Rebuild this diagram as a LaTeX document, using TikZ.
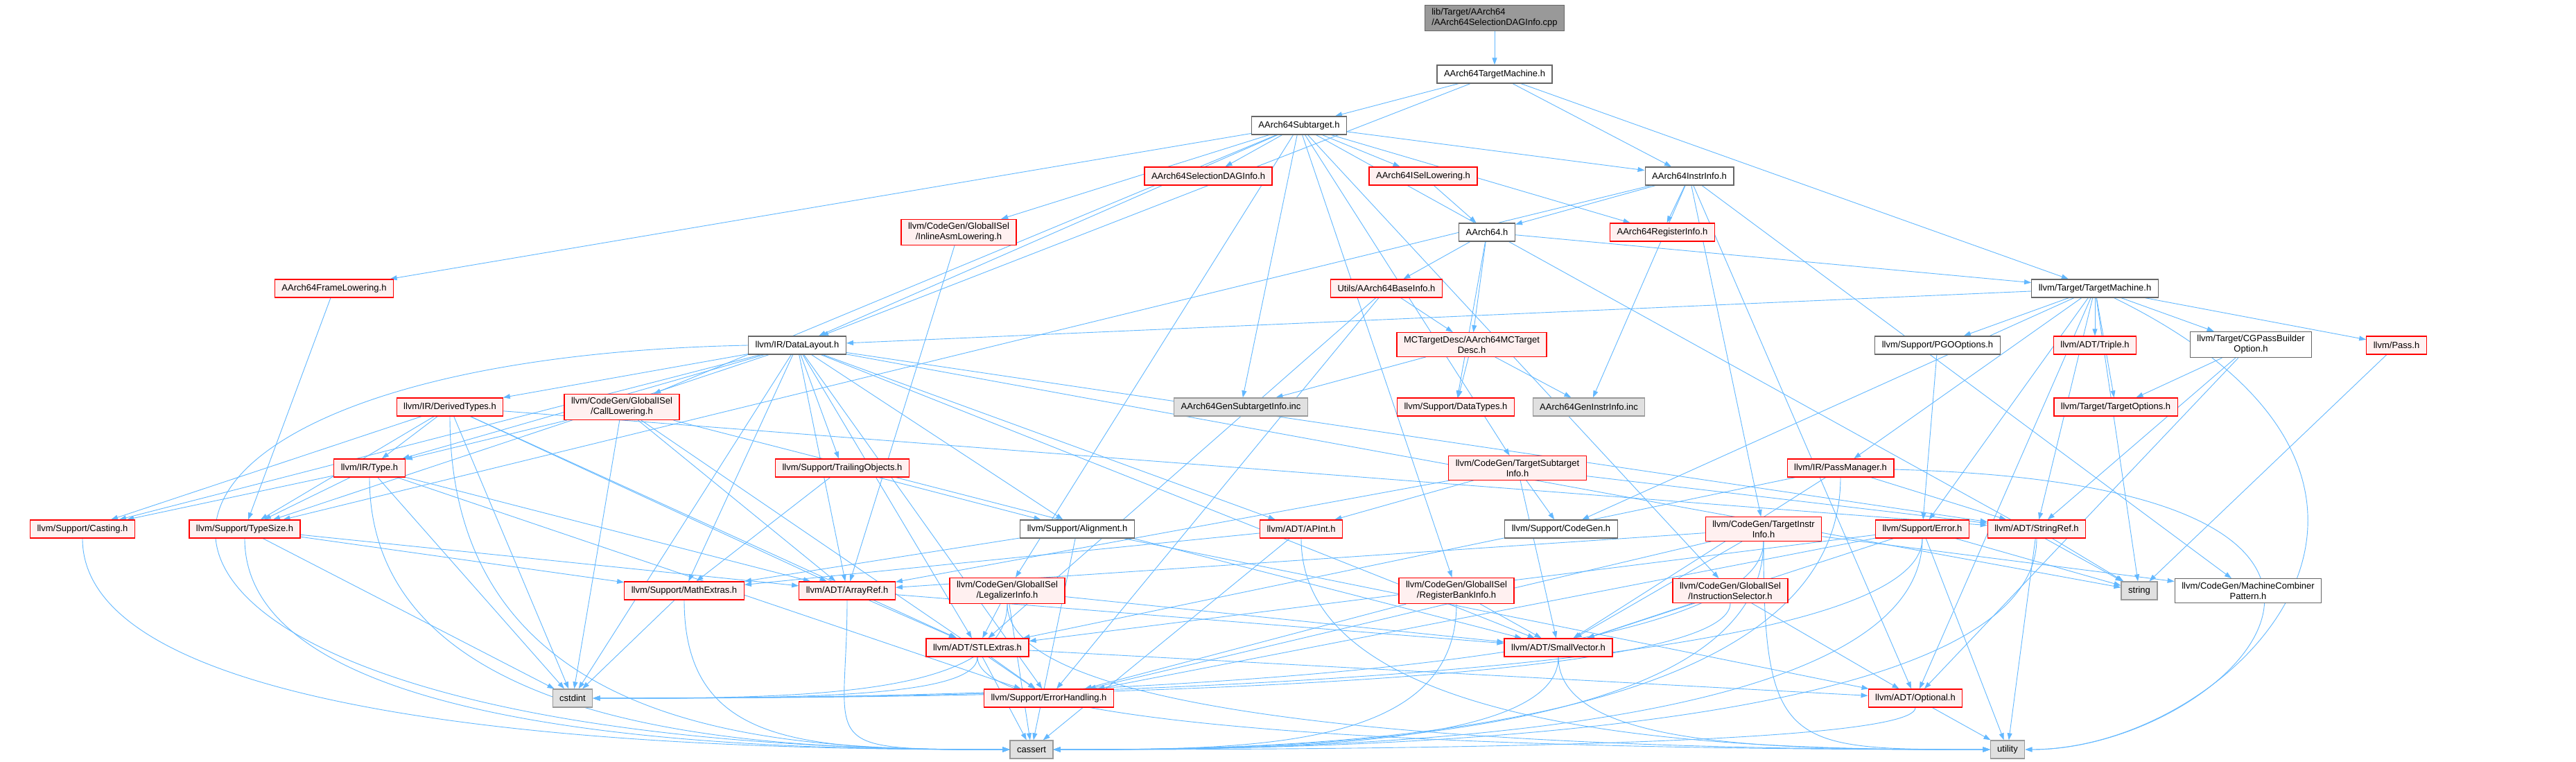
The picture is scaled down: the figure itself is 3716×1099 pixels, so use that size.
\documentclass[tikz,border=0pt]{standalone}
\usepackage{fontspec}
\setmainfont{Liberation Sans}
\usetikzlibrary{arrows.meta, backgrounds, calc}
\definecolor{dedge}{HTML}{63B8FF}
\definecolor{dred}{HTML}{FF0000}
\definecolor{dpink}{HTML}{FFF0F0}
\definecolor{dgrey}{HTML}{666666}
\definecolor{dsys}{HTML}{E0E0E0}
\definecolor{dsysline}{HTML}{999999}
\tikzset{
  file/.style={rectangle, draw=dgrey, fill=white, line width=1.3pt, inner xsep=10pt,
               inner ysep=5pt, minimum height=26pt, align=center, font=\fontsize{13}{15}\selectfont},
  trunc/.style={file, draw=dred, fill=dpink},
  sys/.style={file, draw=dsysline, fill=dsys},
  topfile/.style={file, draw=dgrey, fill=dsysline, align=left},
  dep/.style={-{Triangle[length=10pt,width=7pt]}, draw=dedge, line width=0.9pt}
}

\begin{document}
\begin{tikzpicture}[x=1pt, y=-1pt]
  \useasboundingbox (0,0) rectangle (3716,1099);
  % files of the AArch64 target
  \node[topfile] (root) at (2156,26) {lib/Target/AArch64\\/AArch64SelectionDAGInfo.cpp};
  \node[file] (atm) at (2156,107) {AArch64TargetMachine.h};
  \node[file] (sub) at (1874,181) {AArch64Subtarget.h};
  \node[trunc] (seldag) at (1743,254) {AArch64SelectionDAGInfo.h};
  \node[trunc] (isel) at (2053,254) {AArch64ISelLowering.h};
  \node[file] (instr) at (2437,254) {AArch64InstrInfo.h};
  \node[trunc] (inlasm) at (1383,335) {llvm/CodeGen/GlobalISel\\/InlineAsmLowering.h};
  \node[file] (aarch) at (2145,335) {AArch64.h};
  \node[trunc] (reginfo) at (2398,335) {AArch64RegisterInfo.h};
  \node[trunc] (frame) at (482,416) {AArch64FrameLowering.h};
  \node[trunc] (baseinfo) at (2000,416) {Utils/AArch64BaseInfo.h};
  \node[file] (tm) at (3022,416) {llvm/Target/TargetMachine.h};
  \node[file] (dl) at (1150,498) {llvm/IR/DataLayout.h};
  \node[trunc] (mcdesc) at (2123,497) {MCTargetDesc/AArch64MCTarget\\Desc.h};
  \node[file] (pgo) at (2795,498) {llvm/Support/PGOOptions.h};
  \node[trunc] (triple) at (3022,498) {llvm/ADT/Triple.h};
  \node[file] (cgpass) at (3247,497) {llvm/Target/CGPassBuilder\\Option.h};
  \node[trunc] (pass) at (3457,498) {llvm/Pass.h};
  \node[trunc] (derived) at (649,587) {llvm/IR/DerivedTypes.h};
  \node[trunc] (calllow) at (897,587) {llvm/CodeGen/GlobalISel\\/CallLowering.h};
  \node[sys] (gensub) at (1790,587) {AArch64GenSubtargetInfo.inc};
  \node[trunc] (datatypes) at (2100,587) {llvm/Support/DataTypes.h};
  \node[sys] (geninstr) at (2292,587) {AArch64GenInstrInfo.inc};
  \node[trunc] (tgtopt) at (3052,587) {llvm/Target/TargetOptions.h};
  \node[trunc] (type) at (533,675) {llvm/IR/Type.h};
  \node[trunc] (trailing) at (1215,675) {llvm/Support/TrailingObjects.h};
  \node[trunc] (tsi) at (2189,675) {llvm/CodeGen/TargetSubtarget\\Info.h};
  \node[trunc] (passmgr) at (2655,675) {llvm/IR/PassManager.h};
  \node[trunc] (casting) at (119,763) {llvm/Support/Casting.h};
  \node[trunc] (typesize) at (353,763) {llvm/Support/TypeSize.h};
  \node[file] (align) at (1554,763) {llvm/Support/Alignment.h};
  \node[trunc] (apint) at (1877,763) {llvm/ADT/APInt.h};
  \node[file] (codegen) at (2252,763) {llvm/Support/CodeGen.h};
  \node[trunc] (tii) at (2544,763) {llvm/CodeGen/TargetInstr\\Info.h};
  \node[trunc] (error) at (2773,763) {llvm/Support/Error.h};
  \node[trunc] (strref) at (2938,763) {llvm/ADT/StringRef.h};
  \node[trunc] (math) at (987,852) {llvm/Support/MathExtras.h};
  \node[trunc] (arrayref) at (1222,852) {llvm/ADT/ArrayRef.h};
  \node[trunc] (legal) at (1453,852) {llvm/CodeGen/GlobalISel\\/LegalizerInfo.h};
  \node[trunc] (rbi) at (2101,852) {llvm/CodeGen/GlobalISel\\/RegisterBankInfo.h};
  \node[trunc] (isel2) at (2496,852) {llvm/CodeGen/GlobalISel\\/InstructionSelector.h};
  \node[sys] (string) at (3086,852) {string};
  \node[file] (mcp) at (3243,852) {llvm/CodeGen/MachineCombiner\\Pattern.h};
  \node[trunc] (stl) at (1410,934) {llvm/ADT/STLExtras.h};
  \node[trunc] (smallvec) at (2248,934) {llvm/ADT/SmallVector.h};
  \node[trunc] (errh) at (1513,1007) {llvm/Support/ErrorHandling.h};
  \node[sys] (cstdint) at (826,1007) {cstdint};
  \node[trunc] (optional) at (2763,1007) {llvm/ADT/Optional.h};
  \node[sys] (cassert) at (1488,1081) {cassert};
  \node[sys] (utility) at (2896,1081) {utility};

  % includes
  \begin{scope}[on background layer]
  \draw[dep] (root) -- (atm);
  \foreach \t in {sub,instr,dl,tm} \draw[dep] (atm) -- (\t);
  \foreach \t in {seldag,isel,instr,reginfo,frame,inlasm,calllow,legal,rbi,isel2,dl,gensub,tsi,string}
    \draw[dep] (sub) -- (\t);
  \draw[dep] (isel) -- (aarch);
  \foreach \t in {aarch,reginfo,typesize,tii,geninstr,mcp,optional} \draw[dep] (instr) -- (\t);
  \foreach \t in {baseinfo,mcdesc,datatypes,tm} \draw[dep] (aarch) -- (\t);
  \draw[dep] (frame) -- (typesize);
  \draw[dep] (inlasm) -- (arrayref);
  \foreach \t in {mcdesc,stl,errh} \draw[dep] (baseinfo) -- (\t);
  \foreach \t in {gensub,datatypes,geninstr} \draw[dep] (mcdesc) -- (\t);
  \foreach \t in {dl,pgo,triple,cgpass,pass,passmgr,codegen,error,strref,tgtopt,string,optional}
    \draw[dep] (tm) -- (\t);
  \draw[dep] (pgo) -- (error);
  \foreach \t in {tgtopt,strref,optional} \draw[dep] (cgpass) -- (\t);
  \draw[dep] (pass) -- (string);
  \foreach \t in {derived,type,trailing,casting,typesize,math,arrayref,align,apint,stl,smallvec,strref,errh,cstdint,string}
    \draw[dep] (dl) -- (\t);
  \foreach \t in {type,casting,typesize,arrayref,stl,strref,cstdint} \draw[dep] (derived) -- (\t);
  \foreach \t in {type,arrayref,smallvec,errh,cstdint} \draw[dep] (calllow) -- (\t);
  \foreach \t in {casting,typesize,arrayref,errh,cstdint} \draw[dep] (type) -- (\t);
  \foreach \t in {math,align} \draw[dep] (trailing) -- (\t);
  \foreach \t in {arrayref,apint,smallvec,strref,codegen} \draw[dep] (tsi) -- (\t);
  \foreach \t in {stl,smallvec,strref} \draw[dep] (passmgr) -- (\t);
  \foreach \t in {math,arrayref,cstdint} \draw[dep] (typesize) -- (\t);
  \foreach \t in {math,cassert,optional} \draw[dep] (align) -- (\t);
  \foreach \t in {math,cassert} \draw[dep] (apint) -- (\t);
  \foreach \t in {arrayref,smallvec,mcp,errh} \draw[dep] (tii) -- (\t);
  \foreach \t in {stl,smallvec,errh,string,utility} \draw[dep] (error) -- (\t);
  \foreach \t in {string,utility} \draw[dep] (strref) -- (\t);
  \draw[dep] (math) -- (cstdint);
  \foreach \t in {stl,smallvec} \draw[dep] (arrayref) -- (\t);
  \foreach \t in {stl,smallvec,cassert} \draw[dep] (legal) -- (\t);
  \foreach \t in {smallvec,errh} \draw[dep] (rbi) -- (\t);
  \foreach \t in {smallvec,optional} \draw[dep] (isel2) -- (\t);
  \foreach \t in {errh,cassert,optional} \draw[dep] (stl) -- (\t);
  \draw[dep] (optional) -- (utility);
  % system headers reached from the side
  \draw[dep] (dl.west) .. controls (0,520) and (0,1085) .. (cassert.west);
  \foreach \s in {casting,typesize,type,derived,math,arrayref}
    \draw[dep] (\s) .. controls (\s |- cassert) and ($(cassert)+(-320,0)$) .. (cassert);
  \foreach \s in {smallvec,optional,rbi,error,strref,tii,passmgr}
    \draw[dep] (\s) .. controls (\s |- cassert) and ($(cassert)+(320,0)$) .. (cassert);
  \foreach \s in {stl,legal,isel2,tii,error}
    \draw[dep] (\s) .. controls (\s |- cstdint) and ($(cstdint)+(320,0)$) .. (cstdint);
  \foreach \s in {stl,legal,apint,smallvec,tii}
    \draw[dep] (\s) .. controls (\s |- utility) and ($(utility)+(-320,0)$) .. (utility);
  \foreach \s in {tm,passmgr}
    \draw[dep] (\s) .. controls (3600,700) and ($(utility)+(320,0)$) .. (utility);
  \end{scope}
\end{tikzpicture}
\end{document}
